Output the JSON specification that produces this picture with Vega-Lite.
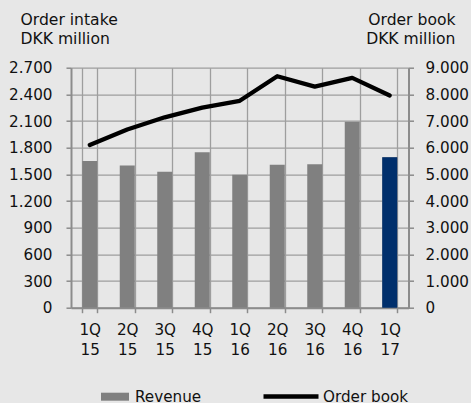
{
  "$schema": "https://vega.github.io/schema/vega-lite/v6.json",
  "width": 337.5,
  "height": 240,
  "autosize": {"type": "none"},
  "padding": {"left": 71, "top": 67.7, "right": 62.5, "bottom": 95.3},
  "background": "#e7e7e7",
  "config": {
    "view": {"stroke": null},
    "font": "DejaVu Sans",
    "axis": {
      "labelFontSize": 15.2,
      "labelColor": "#111111",
      "titleColor": "#111111",
      "titleFontSize": 15.6,
      "titleFontWeight": "normal",
      "domainColor": "#8c8c8c",
      "domainWidth": 2,
      "tickColor": "#8c8c8c",
      "tickWidth": 1.5,
      "tickSize": 5,
      "gridColor": "#9e9e9e",
      "gridWidth": 1.3
    },
    "legend": {
      "labelFontSize": 15.2,
      "labelColor": "#111111",
      "padding": 0
    }
  },
  "data": {
    "values": [
      {"q": "1Q 15", "intake": 1650, "book": 6100},
      {"q": "2Q 15", "intake": 1600, "book": 6680},
      {"q": "3Q 15", "intake": 1530, "book": 7140},
      {"q": "4Q 15", "intake": 1748, "book": 7500},
      {"q": "1Q 16", "intake": 1496, "book": 7760},
      {"q": "2Q 16", "intake": 1607, "book": 8680},
      {"q": "3Q 16", "intake": 1615, "book": 8290},
      {"q": "4Q 16", "intake": 2092, "book": 8620},
      {"q": "1Q 17", "intake": 1692, "book": 7960}
    ]
  },
  "encoding": {
    "x": {
      "field": "q",
      "type": "ordinal",
      "sort": null,
      "scale": {"paddingInner": 0.6, "paddingOuter": 0.3},
      "axis": {
        "title": null,
        "labelAngle": 0,
        "labelExpr": "split(datum.label, ' ')",
        "labelLineHeight": 19.5,
        "labelPadding": 10,
        "tickBand": "extent",
        "grid": true
      }
    }
  },
  "layer": [
    {
      "encoding": {
        "y": {
          "field": "intake",
          "type": "quantitative",
          "scale": {"domain": [0, 2700], "nice": false},
          "axis": {
            "values": [0, 300, 600, 900, 1200, 1500, 1800, 2100, 2400, 2700],
            "labelExpr": "replace(format(datum.value, ','), ',', '.')",
            "labelPadding": 14,
            "grid": true,
            "title": ["Order intake", "DKK million"],
            "titleAngle": 0,
            "titleAlign": "left",
            "titleBaseline": "alphabetic",
            "titleX": -51,
            "titleY": -43.2,
            "titleLineHeight": 19.5
          }
        }
      },
      "layer": [
        {
          "mark": {"type": "bar", "color": "#808080"},
          "encoding": {
            "color": {
              "datum": "Revenue",
              "scale": {"range": ["#808080"]},
              "legend": {
                "title": null,
                "orient": "none",
                "legendX": 29,
                "legendY": 314,
                "symbolType": "M-1,-0.286H1V0.286H-1Z",
                "symbolSize": 784,
                "labelOffset": 5
              }
            }
          }
        },
        {
          "transform": [{"filter": "datum.q === '1Q 17'"}],
          "mark": {"type": "bar", "color": "#002f6c"}
        }
      ]
    },
    {
      "mark": {"type": "line", "strokeWidth": 4.3, "strokeCap": "round", "strokeJoin": "round"},
      "encoding": {
        "y": {
          "field": "book",
          "type": "quantitative",
          "scale": {"domain": [0, 9000], "nice": false},
          "axis": {
            "orient": "right",
            "values": [0, 1000, 2000, 3000, 4000, 5000, 6000, 7000, 8000, 9000],
            "labelExpr": "replace(format(datum.value, ','), ',', '.')",
            "labelPadding": 11.5,
            "grid": false,
            "title": ["Order book", "DKK million"],
            "titleAngle": 0,
            "titleAlign": "right",
            "titleBaseline": "alphabetic",
            "titleX": 46.5,
            "titleY": -43.2,
            "titleLineHeight": 19.5
          }
        },
        "color": {
          "datum": "Order book",
          "scale": {"range": ["#000000"]},
          "legend": {
            "title": null,
            "orient": "none",
            "legendX": 190,
            "legendY": 298.8,
            "symbolType": "M-1,0H1",
            "symbolSize": 3025,
            "symbolStrokeWidth": 4.5,
            "labelOffset": 2
          }
        }
      }
    }
  ],
  "resolve": {"scale": {"y": "independent", "color": "independent"}}
}
